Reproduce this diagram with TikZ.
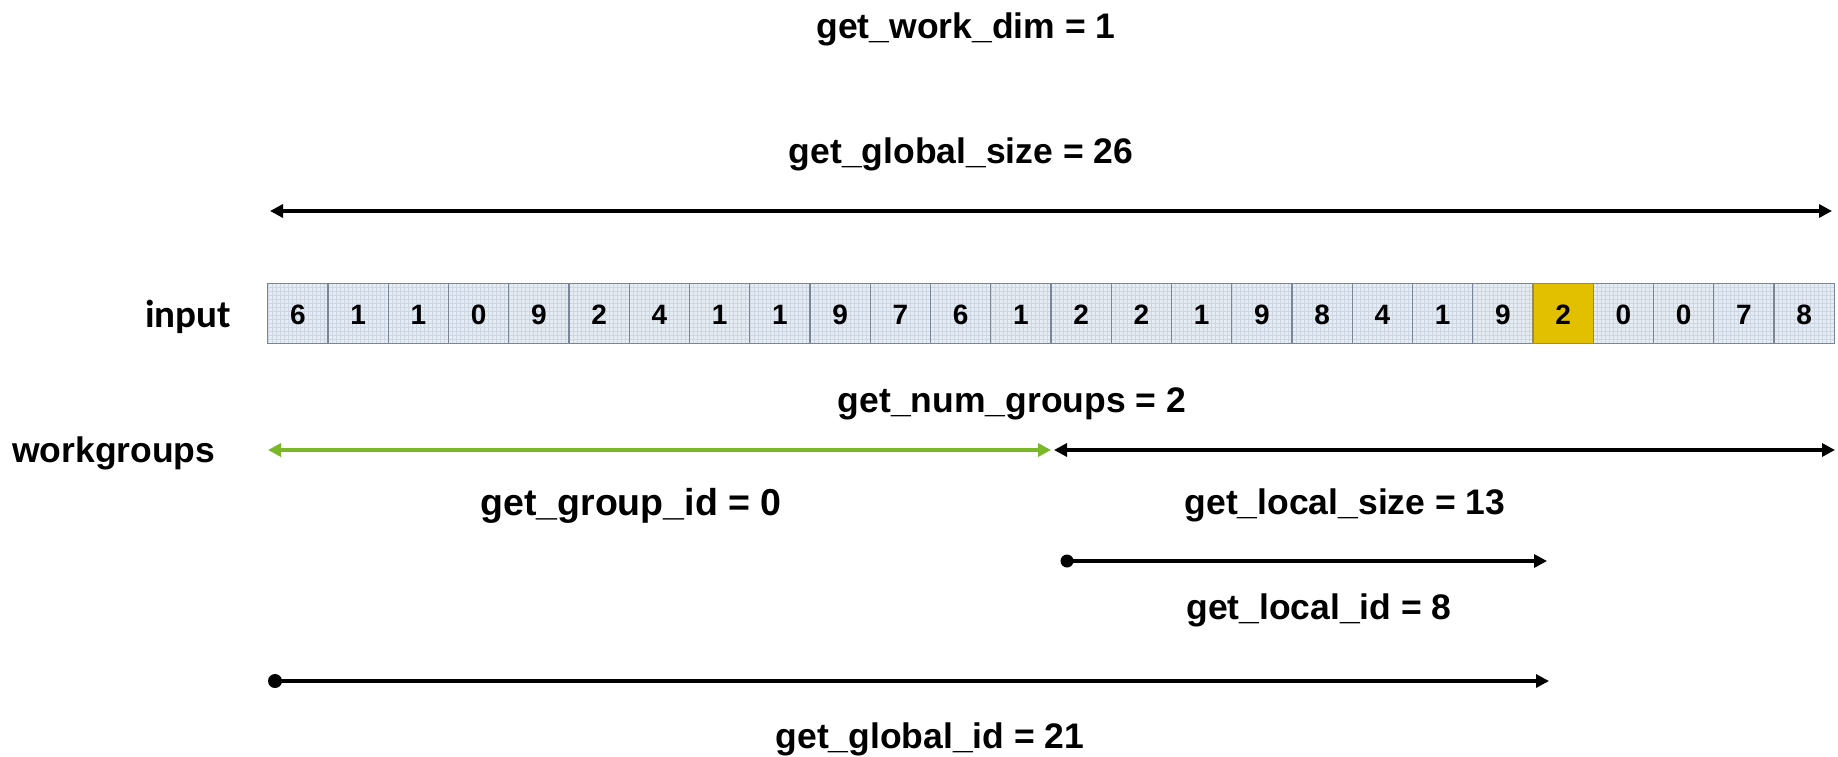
\documentclass[tikz,border=0pt]{standalone}
\usepackage{fontspec}
\setmainfont{Liberation Sans}
\newfontfamily\calib{Carlito}
\usetikzlibrary{arrows.meta}
\definecolor{cellfill}{RGB}{230,236,243}
\definecolor{cellgrid}{RGB}{205,215,227}
\definecolor{celledge}{RGB}{120,135,152}
\definecolor{gold}{RGB}{226,192,0}
\definecolor{goldedge}{RGB}{150,140,90}
\definecolor{wgreen}{RGB}{122,184,40}
\tikzset{
  lab/.style={font=\fontsize{35.5}{40}\selectfont\bfseries, inner sep=0pt, anchor=base},
  num/.style={font=\fontsize{28}{32}\selectfont\bfseries},
  arr/.style={line width=3.2pt, -{Triangle[length=13pt,width=13pt]}},
  darr/.style={line width=3.2pt, {Triangle[length=13pt,width=13pt]}-{Triangle[length=13pt,width=13pt]}},
  dotstart/.style={circle, fill=black, inner sep=0pt, minimum size=13pt},
}
\begin{document}
\begin{tikzpicture}[x=1pt,y=-1pt]
\useasboundingbox (0,0) rectangle (1838,757);
% labels
\node[lab] (wd) at (966,39) {get\_work\_dim = 1};
\node[lab] (gs) at (961,163) {get\_global\_size = 26};
\node[lab, font=\fontsize{39}{42}\selectfont\calib\bfseries] (inp) at (188,327) {input};
\node[lab] (ng) at (1012,412) {get\_num\_groups = 2};
\node[lab, anchor=base west] (wg) at (12,462) {workgroups};
\node[lab, font=\fontsize{37.5}{42}\selectfont\bfseries] (gid) at (631,515) {get\_group\_id = 0};
\node[lab] (ls) at (1345,514) {get\_local\_size = 13};
\node[lab] (lid) at (1319,619) {get\_local\_id = 8};
\node[lab] (glid) at (930,748) {get\_global\_id = 21};
% cells
\foreach \v [count=\i from 0] in {6,1,1,0,9,2,4,1,1,9,7,6,1,2,2,1,9,8,4,1,9,2,0,0,7,8} {
  \pgfmathsetmacro{\xl}{267.7+\i*60.25}
  \pgfmathsetmacro{\xr}{\xl+60.25}
  \ifnum\i=21
    \fill[gold] (\xl,283.3) rectangle (\xr,343.6);
    \draw[goldedge, line width=1.2pt] (\xl,283.3) rectangle (\xr,343.6);
  \else
    \fill[cellfill] (\xl,283.3) rectangle (\xr,343.6);
    \begin{scope}
      \clip (\xl,283.3) rectangle (\xr,343.6);
      \foreach \k in {0,4,...,60} {
        \draw[cellgrid, line width=0.4pt] (\xl+\k,283.3) -- (\xl+\k,343.6);
        \draw[cellgrid, line width=0.4pt] (\xl,283.3+\k) -- (\xr,283.3+\k);
      }
    \end{scope}
    \draw[celledge, line width=1.2pt] (\xl,283.3) rectangle (\xr,343.6);
  \fi
  \node[num, anchor=base] (c\i) at ({\xl+30.1},324) {\v};
}
% global size arrow
\coordinate (gsL) at (270,211);
\coordinate (gsR) at (1832,211);
\draw[darr] (gsL) -- (gsR);
% workgroups arrows
\coordinate (g0L) at (268,450);
\coordinate (g0R) at (1051,450);
\coordinate (g1L) at (1054,450);
\coordinate (g1R) at (1835,450);
\draw[darr, wgreen, line width=3.4pt] (g0L) -- (g0R);
\draw[darr] (g1L) -- (g1R);
% local id
\node[dotstart] (lidS) at (1067,561) {};
\coordinate (lidE) at (1547,561);
\draw[arr] (lidS.center) -- (lidE);
% global id
\node[dotstart, minimum size=14pt] (glS) at (275,681) {};
\coordinate (glE) at (1549,681);
\draw[arr] (glS.center) -- (glE);
\end{tikzpicture}
\end{document}
